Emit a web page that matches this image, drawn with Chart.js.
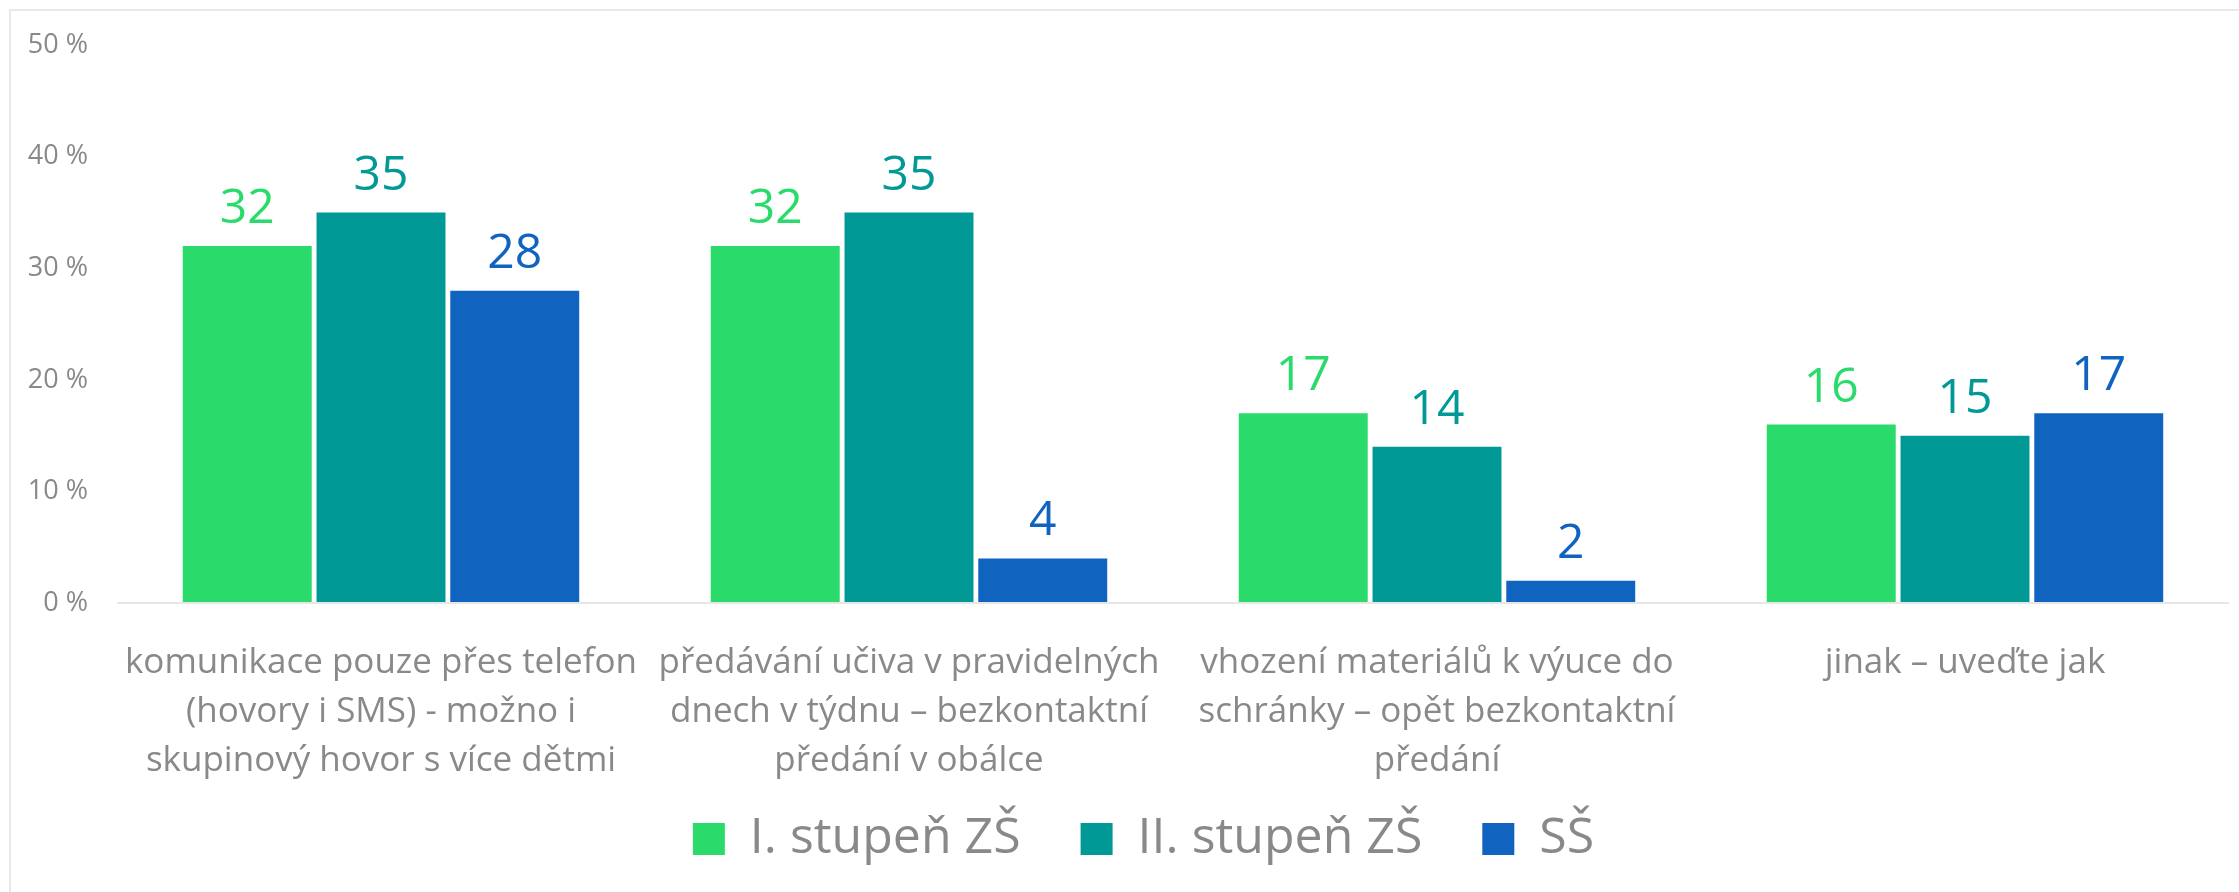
<!DOCTYPE html>
<html>
  <head>
    <meta charset="utf-8">
    <script src="https://cdn.jsdelivr.net/npm/chart.js@4/dist/chart.umd.min.js"></script>
    <style>
      body { margin: 0; background: #fff; }
    </style>
  </head>

  <body>
    <canvas id="canvas" width="2239" height="892"></canvas>
    <script>
      const categories = [
        ['komunikace pouze přes telefon', '(hovory i SMS) - možno i', 'skupinový hovor s více dětmi'],
        ['předávání učiva v pravidelných', 'dnech v týdnu – bezkontaktní', 'předání v obálce'],
        ['vhození materiálů k výuce do', 'schránky – opět bezkontaktní', 'předání'],
        ['jinak – uveďte jak'],
      ];
      const seriesNames = ['I. stupeň ZŠ', 'II. stupeň ZŠ', 'SŠ'];
      const stupen1 = [32, 32, 17, 16];
      const stupen2 = [35, 35, 14, 15];
      const ss = [28, 4, 2, 17];
      const colors = ['#2adb6c', '#009996', '#1163c0'];

      const FONT = "'Open Sans', 'Noto Sans', sans-serif";
      const GREY = '#898989';

      // frame, legend nudge and value labels on top of bars
      const extras = {
        id: 'extras',
        afterLayout(chart) {
          const lg = chart.legend;
          lg.left += 19;
          lg.right += 19;
          lg.top -= 27;
          lg.bottom -= 27;
          // x labels overlap the legend box a bit, don't clip them
          chart.scales.x.bottom += 100;
        },
        beforeDraw(chart) {
          const ctx = chart.ctx;
          ctx.save();
          ctx.strokeStyle = '#e9e9e9';
          ctx.lineWidth = 2;
          ctx.strokeRect(10, 10, 2400, 1000);
          ctx.restore();
        },
        afterDatasetsDraw(chart) {
          const ctx = chart.ctx;
          ctx.save();
          ctx.font = '48px ' + FONT;
          ctx.textAlign = 'center';
          ctx.textBaseline = 'alphabetic';
          chart.data.datasets.forEach((ds, i) => {
            ctx.fillStyle = ds.backgroundColor;
            chart.getDatasetMeta(i).data.forEach((bar, j) => {
              ctx.fillText(String(ds.data[j]), bar.x, bar.y - 23);
            });
          });
          ctx.restore();
        },
      };

      new Chart(document.getElementById('canvas').getContext('2d'), {
        type: 'bar',
        data: {
          labels: categories,
          datasets: [stupen1, stupen2, ss].map((d, i) => ({
            label: seriesNames[i],
            data: d,
            backgroundColor: colors[i],
            borderWidth: 0,
            categoryPercentage: 0.76,
            barPercentage: 0.964,
          })),
        },
        options: {
          responsive: false,
          animation: false,
          layout: {
            padding: { left: 20, right: 10, top: 27, bottom: -9 },
          },
          scales: {
            x: {
              grid: { display: false },
              border: { display: false },
              ticks: {
                color: GREY,
                font: { family: FONT, size: 35, lineHeight: 1.4 },
                padding: 28,
                maxRotation: 0,
                autoSkip: false,
              },
              afterFit(s) { s.height -= 33; },
            },
            y: {
              min: 0,
              max: 50,
              border: { display: false },
              grid: {
                drawTicks: false,
                lineWidth: 2,
                color: (c) => (c.tick && c.tick.value === 0 ? '#e6e6e6' : 'rgba(0,0,0,0)'),
              },
              ticks: {
                stepSize: 10,
                color: GREY,
                font: { family: FONT, size: 27 },
                padding: 29,
                callback: (v) => v + ' %',
              },
              afterFit(s) { s.width = 97; },
            },
          },
          plugins: {
            legend: {
              position: 'bottom',
              labels: {
                color: GREY,
                font: { family: FONT, size: 50 },
                boxWidth: 32,
                boxHeight: 32,
                padding: 60,
              },
            },
            tooltip: { enabled: false },
          },
        },
        plugins: [extras],
      });
    </script>
  </body>
</html>
